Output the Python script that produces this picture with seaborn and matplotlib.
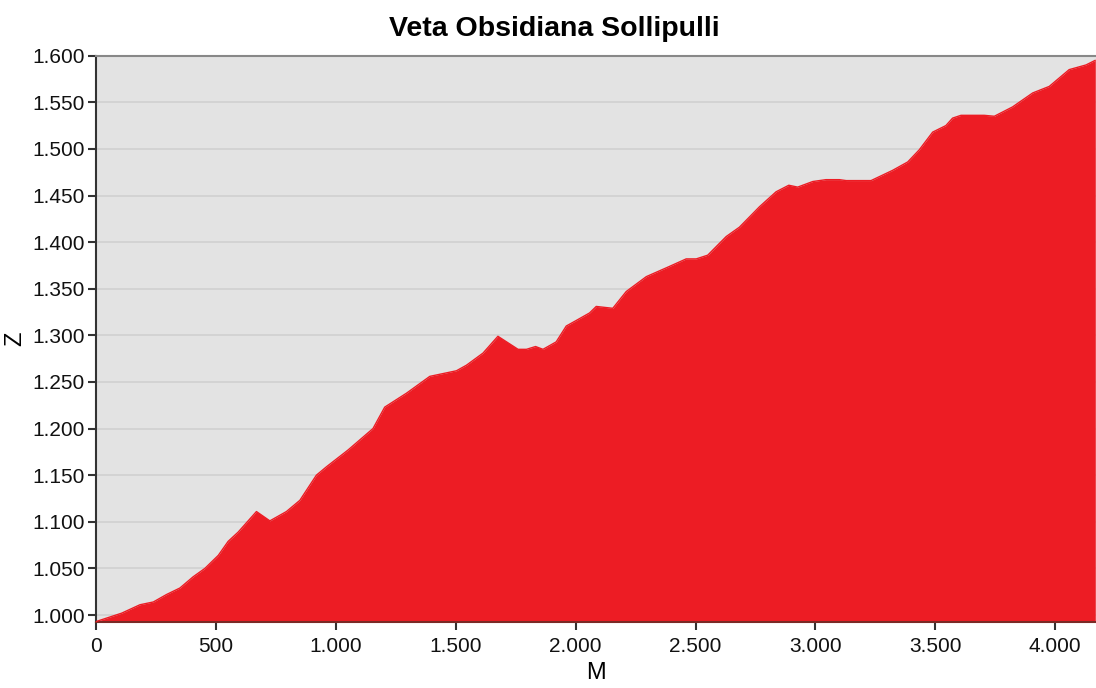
import matplotlib
matplotlib.use("Agg")
import matplotlib.pyplot as plt
import matplotlib.ticker as mticker
import seaborn as sns
import pandas as pd

# distance along the vein (m) and elevation (m)
dist = [0, 107, 183, 239, 294, 350, 405, 454, 510, 551, 593, 669, 725, 794, 850,
        919, 961, 1051, 1155, 1204, 1295, 1392, 1503, 1545, 1614, 1676, 1760,
        1795, 1833, 1864, 1919, 1961, 2003, 2058, 2086, 2155, 2211, 2295, 2392,
        2461, 2503, 2551, 2628, 2683, 2767, 2836, 2889, 2926, 2989, 3044, 3100,
        3128, 3232, 3322, 3385, 3433, 3489, 3544, 3572, 3607, 3704, 3746, 3822,
        3906, 3975, 4058, 4128, 4167]
elev = [993, 1002, 1011, 1014, 1022, 1029, 1041, 1050, 1064, 1079, 1089, 1111,
        1101, 1111, 1123, 1150, 1159, 1177, 1200, 1223, 1238, 1256, 1262, 1268,
        1281, 1299, 1285, 1285, 1288, 1285, 1293, 1310, 1316, 1324, 1331, 1329,
        1347, 1363, 1374, 1382, 1382, 1386, 1406, 1416, 1438, 1454, 1461, 1459,
        1465, 1467, 1467, 1466, 1466, 1477, 1486, 1499, 1518, 1525, 1533, 1536,
        1536, 1535, 1545, 1560, 1567, 1585, 1590, 1595]

df = pd.DataFrame({"M": dist, "Z": elev})

sns.set_style("white", {"axes.facecolor": "#e3e3e3", "text.color": "black",
                        "axes.labelcolor": "black"})
plt.rcParams["font.family"] = ["Liberation Sans", "DejaVu Sans"]

fig = plt.figure(figsize=(10.96, 6.88), dpi=100)
ax = fig.add_axes([0.0876, 0.0959, 0.9124, 0.8232])

red = "#ed1c24"
ax.fill_between(df["M"], 980, df["Z"], color=red, linewidth=0, zorder=2)
sns.lineplot(data=df, x="M", y="Z", ax=ax, color=red, linewidth=1, zorder=3)

ax.set_xlim(0, 4170)
ax.set_ylim(992.5, 1600)
ax.xaxis.set_major_locator(mticker.MultipleLocator(500))
ax.yaxis.set_major_locator(mticker.MultipleLocator(50))
fmt = mticker.FuncFormatter(lambda v, p: f"{v:,.0f}".replace(",", "."))
ax.xaxis.set_major_formatter(fmt)
ax.yaxis.set_major_formatter(fmt)

ax.yaxis.grid(True, color="#d0d0d0", linewidth=1.2, zorder=1)
ax.set_axisbelow(True)

ax.tick_params(axis="both", direction="out", length=6, width=1.5, color="#333333",
               labelsize=15, pad=2, labelcolor="#111111")
ax.tick_params(axis="x", bottom=True, pad=5)
ax.tick_params(axis="y", left=True)

for s in ["left", "bottom"]:
    ax.spines[s].set_color("#333333")
    ax.spines[s].set_linewidth(1.5)
ax.spines["bottom"].set_color("#7a2a25")
ax.spines["top"].set_color("#888888")
ax.spines["top"].set_linewidth(1.5)
ax.spines["right"].set_visible(False)

ax.set_xlabel("M", fontsize=17, labelpad=4, color="black")
ax.set_ylabel("Z", fontsize=17, labelpad=4, color="black")
ax.set_title("Veta Obsidiana Sollipulli", fontsize=20.5, fontweight="bold",
             pad=14, x=0.458, color="black")

fig.savefig("out.png", dpi=100)
